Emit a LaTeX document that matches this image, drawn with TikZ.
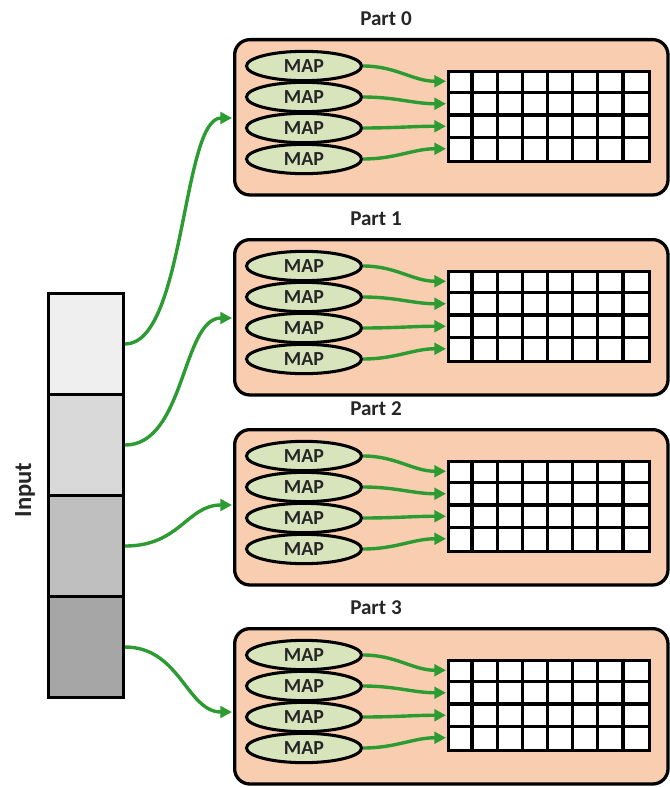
\documentclass[tikz,border=0pt]{standalone}
\usepackage{fontspec}
\setmainfont{Carlito}
\usetikzlibrary{arrows.meta,shapes.geometric,calc}
\definecolor{boxfill}{HTML}{F9CDB0}
\definecolor{mapfill}{HTML}{D8E4BC}
\definecolor{arrgreen}{HTML}{2B9B32}
\definecolor{txt}{HTML}{262626}
\definecolor{seg1}{HTML}{EFEFEF}
\definecolor{seg2}{HTML}{D9D9D9}
\definecolor{seg3}{HTML}{BFBFBF}
\definecolor{seg4}{HTML}{A6A6A6}
\begin{document}
\begin{tikzpicture}[x=0.03cm,y=-0.03cm,
  partbox/.style={draw, line width=2.8pt, fill=boxfill, rounded corners=13pt,
    minimum width=13.0cm, minimum height=4.66cm, anchor=north west, inner sep=0pt},
  mapnode/.style={ellipse, draw, line width=2.6pt, fill=mapfill,
    minimum width=3.45cm, minimum height=0.88cm, inner sep=0pt,
    font=\fontsize{17}{20}\selectfont\bfseries, text=txt},
  gridbox/.style={draw, line width=2.8pt, fill=white,
    minimum width=6.03cm, minimum height=2.7cm, anchor=north west, inner sep=0pt},
  gridline/.style={line width=2.8pt},
  flow/.style={draw=arrgreen, line width=2.9pt, -{Triangle[length=10pt,width=10pt]}},
  partlabel/.style={font=\fontsize{18}{21}\selectfont\bfseries, text=txt},
  inseg/.style={draw, line width=2.6pt, minimum width=2.25cm, minimum height=3.03cm,
    anchor=north west, inner sep=0pt}]
\useasboundingbox (0,0) rectangle (669,787);

% Input column
\node[inseg, fill=seg1] (in1) at (47,292) {};
\node[inseg, fill=seg2] (in2) at (47,393) {};
\node[inseg, fill=seg3] (in3) at (47,494) {};
\node[inseg, fill=seg4] (in4) at (47,595) {};
\node[rotate=90, font=\fontsize{21}{25}\selectfont\bfseries, text=txt] (inlabel) at (25,490) {Input};

% Parts
\foreach \i/\T/\lx/\ay in {0/38/386/80, 1/238/376/80, 2/428/376/77, 3/627/376/85}{
  \node[partlabel] (lab\i) at (\lx,\T-19) {Part \i};
  \node[partbox] (p\i) at (233,\T) {};
  \node[gridbox] (g\i) at (447,\T+32) {};
  \foreach \c in {1,...,7}{
    \draw[gridline] ($(g\i.north west)+(\c*25.125,0)$) -- ++(0,90);
  }
  \foreach \r in {1,2,3}{
    \draw[gridline] ($(g\i.north west)+(0,\r*22.5)$) -- ++(201,0);
  }
  \foreach \k in {1,...,4}{
    \node[mapnode] (m\i-\k) at (304,{\T+28+(\k-1)*31}) {MAP};
    \coordinate (r\i-\k) at (446,{\T+32+(\k-0.5)*22.5});
  }
  \foreach \k in {1,...,4}{
    \draw[flow] (m\i-\k.east) to[out=0,in=180] (r\i-\k);
  }
  \coordinate (a\i) at (232,\T+\ay);
}

% Input arrows
\draw[flow] (in1.east) .. controls +(60,0) and +(-50,0) .. (a0);
\draw[flow] (in2.east) .. controls +(60,0) and +(-50,0) .. (a1);
\draw[flow] (in3.east) .. controls +(55,0) and +(-45,0) .. (a2);
\draw[flow] (in4.east) .. controls +(55,0) and +(-45,0) .. (a3);
\end{tikzpicture}
\end{document}
